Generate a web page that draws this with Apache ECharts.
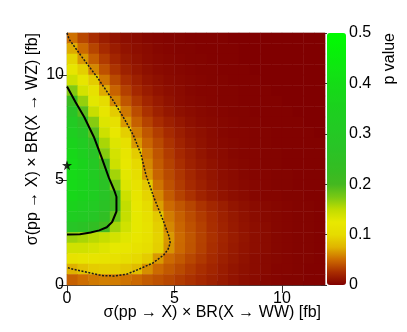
<!DOCTYPE html>
<html>
<head>
<meta charset="utf-8">
<script src="https://cdn.jsdelivr.net/npm/echarts@6/dist/echarts.min.js"></script>
<style>
  html, body { margin: 0; padding: 0; background: #fff; }
  #chart { width: 407px; height: 332px; }
</style>
</head>
<body>
<div id="chart"></div>
<script>
// bin centres (0.5 wide bins over 0..12)
const X_CENTERS = [0.25, 0.75, 1.25, 1.75, 2.25, 2.75, 3.25, 3.75, 4.25, 4.75, 5.25, 5.75, 6.25, 6.75, 7.25, 7.75, 8.25, 8.75, 9.25, 9.75, 10.25, 10.75, 11.25, 11.75]
const Y_CENTERS = [0.25, 0.75, 1.25, 1.75, 2.25, 2.75, 3.25, 3.75, 4.25, 4.75, 5.25, 5.75, 6.25, 6.75, 7.25, 7.75, 8.25, 8.75, 9.25, 9.75, 10.25, 10.75, 11.25, 11.75]

// p values, one row per y bin, top row (y = 11.75) first
const P_ROWS = [
  [0.052, 0.036, 0.025, 0.017, 0.011, 0.008, 0.006, 0.004, 0.003, 0.002, 0.002, 0.001, 0.001, 0.001, 0.001, 0, 0, 0, 0, 0, 0, 0, 0, 0],
  [0.072, 0.050, 0.035, 0.024, 0.016, 0.011, 0.008, 0.006, 0.004, 0.003, 0.002, 0.002, 0.001, 0.001, 0.001, 0.001, 0, 0, 0, 0, 0, 0, 0, 0],
  [0.095, 0.066, 0.045, 0.031, 0.021, 0.014, 0.010, 0.007, 0.005, 0.004, 0.003, 0.002, 0.002, 0.001, 0.001, 0.001, 0, 0, 0, 0, 0, 0, 0, 0],
  [0.118, 0.092, 0.060, 0.040, 0.028, 0.019, 0.013, 0.009, 0.006, 0.005, 0.004, 0.003, 0.002, 0.002, 0.001, 0.001, 0.001, 0, 0, 0, 0, 0, 0, 0],
  [0.142, 0.118, 0.090, 0.054, 0.037, 0.026, 0.018, 0.012, 0.009, 0.006, 0.005, 0.004, 0.003, 0.002, 0.002, 0.001, 0.001, 0.001, 0, 0, 0, 0, 0, 0],
  [0.172, 0.138, 0.110, 0.072, 0.047, 0.033, 0.023, 0.016, 0.011, 0.008, 0.006, 0.004, 0.003, 0.003, 0.002, 0.002, 0.001, 0.001, 0.001, 0, 0, 0, 0, 0],
  [0.220, 0.165, 0.128, 0.100, 0.060, 0.042, 0.030, 0.021, 0.015, 0.010, 0.007, 0.005, 0.004, 0.003, 0.002, 0.002, 0.001, 0.001, 0.001, 0.001, 0, 0, 0, 0],
  [0.270, 0.190, 0.145, 0.118, 0.090, 0.054, 0.038, 0.027, 0.019, 0.013, 0.009, 0.007, 0.005, 0.004, 0.003, 0.002, 0.002, 0.001, 0.001, 0.001, 0.001, 0, 0, 0],
  [0.310, 0.245, 0.170, 0.132, 0.108, 0.066, 0.046, 0.034, 0.025, 0.018, 0.013, 0.009, 0.006, 0.005, 0.004, 0.003, 0.002, 0.002, 0.001, 0.001, 0.001, 0.001, 0, 0],
  [0.340, 0.290, 0.190, 0.142, 0.122, 0.092, 0.056, 0.042, 0.032, 0.024, 0.017, 0.012, 0.009, 0.006, 0.004, 0.003, 0.003, 0.002, 0.002, 0.001, 0.001, 0.001, 0.001, 0],
  [0.360, 0.320, 0.235, 0.158, 0.132, 0.108, 0.066, 0.048, 0.037, 0.028, 0.020, 0.014, 0.010, 0.007, 0.005, 0.004, 0.003, 0.002, 0.002, 0.001, 0.001, 0.001, 0.001, 0.001],
  [0.380, 0.345, 0.270, 0.170, 0.138, 0.118, 0.090, 0.055, 0.041, 0.031, 0.023, 0.017, 0.012, 0.008, 0.006, 0.004, 0.003, 0.003, 0.002, 0.002, 0.001, 0.001, 0.001, 0.001],
  [0.390, 0.360, 0.300, 0.200, 0.142, 0.122, 0.098, 0.060, 0.044, 0.034, 0.026, 0.019, 0.014, 0.010, 0.007, 0.005, 0.004, 0.003, 0.002, 0.002, 0.001, 0.001, 0.001, 0.001],
  [0.390, 0.370, 0.320, 0.245, 0.160, 0.128, 0.105, 0.066, 0.047, 0.037, 0.029, 0.022, 0.016, 0.012, 0.008, 0.006, 0.004, 0.003, 0.003, 0.002, 0.002, 0.001, 0.001, 0.001],
  [0.390, 0.370, 0.330, 0.265, 0.175, 0.132, 0.112, 0.088, 0.053, 0.040, 0.031, 0.024, 0.018, 0.013, 0.009, 0.007, 0.005, 0.004, 0.003, 0.002, 0.002, 0.001, 0.001, 0.001],
  [0.380, 0.360, 0.330, 0.275, 0.210, 0.142, 0.118, 0.095, 0.060, 0.044, 0.034, 0.027, 0.020, 0.015, 0.011, 0.008, 0.006, 0.004, 0.003, 0.003, 0.002, 0.002, 0.001, 0.001],
  [0.360, 0.340, 0.310, 0.265, 0.210, 0.148, 0.122, 0.100, 0.068, 0.050, 0.042, 0.035, 0.028, 0.022, 0.017, 0.012, 0.009, 0.006, 0.005, 0.004, 0.003, 0.002, 0.002, 0.001],
  [0.330, 0.310, 0.285, 0.245, 0.185, 0.146, 0.126, 0.108, 0.088, 0.056, 0.046, 0.038, 0.031, 0.025, 0.019, 0.014, 0.010, 0.007, 0.005, 0.004, 0.003, 0.002, 0.002, 0.001],
  [0.280, 0.265, 0.240, 0.205, 0.160, 0.140, 0.126, 0.112, 0.092, 0.060, 0.048, 0.040, 0.033, 0.026, 0.020, 0.015, 0.011, 0.008, 0.006, 0.004, 0.003, 0.002, 0.002, 0.001],
  [0.162, 0.158, 0.152, 0.146, 0.138, 0.130, 0.121, 0.110, 0.094, 0.066, 0.050, 0.042, 0.034, 0.027, 0.021, 0.016, 0.012, 0.008, 0.006, 0.004, 0.003, 0.002, 0.002, 0.001],
  [0.140, 0.140, 0.136, 0.131, 0.126, 0.120, 0.112, 0.104, 0.092, 0.064, 0.049, 0.041, 0.033, 0.026, 0.020, 0.015, 0.011, 0.008, 0.006, 0.004, 0.003, 0.002, 0.002, 0.001],
  [0.112, 0.116, 0.117, 0.115, 0.111, 0.105, 0.098, 0.090, 0.066, 0.050, 0.043, 0.036, 0.030, 0.024, 0.018, 0.014, 0.010, 0.007, 0.005, 0.004, 0.003, 0.002, 0.002, 0.001],
  [0.074, 0.084, 0.090, 0.092, 0.091, 0.087, 0.080, 0.062, 0.050, 0.043, 0.037, 0.031, 0.026, 0.021, 0.016, 0.012, 0.009, 0.007, 0.005, 0.003, 0.003, 0.002, 0.001, 0.001],
  [0.046, 0.051, 0.055, 0.057, 0.056, 0.053, 0.049, 0.044, 0.040, 0.036, 0.031, 0.027, 0.023, 0.019, 0.015, 0.011, 0.008, 0.006, 0.004, 0.003, 0.002, 0.002, 0.001, 0.001],
]

// contour lines, [x, y]
const DOTTED_CONTOUR = [
  [0, 12.0], [0.1, 11.7], [0.7, 10.85], [1.4, 9.9], [2.2, 8.7], [2.7, 7.85], [3.1, 7.1],
  [3.45, 6.2], [3.67, 5.25], [4.05, 4.15], [4.5, 3.0], [4.75, 2.3], [4.8, 2.0], [4.7, 1.7],
  [4.5, 1.43], [4.0, 1.05], [3.45, 0.8], [2.8, 0.52], [2.2, 0.43], [1.6, 0.45], [1.1, 0.57],
  [0.6, 0.68], [0.1, 0.8], [0, 0.85],
]
const SOLID_CONTOUR = [
  [0, 9.45], [0.05, 9.4], [0.4, 8.7], [0.8, 8.0], [1.25, 7.05], [1.6, 6.1], [1.95, 5.1],
  [2.2, 4.5], [2.3, 4.2], [2.3, 3.5], [2.1, 3.0], [1.85, 2.75], [1.5, 2.6], [1.1, 2.5],
  [0.6, 2.42], [0.1, 2.4], [0, 2.4],
]
const BEST_FIT = [[0, 5.7]]

const AXIS_MAJOR = [0, 5, 10]
const AXIS_MINOR = [1, 2, 3, 4, 6, 7, 8, 9, 11]
const PVAL_TICKS = [0, 0.1, 0.2, 0.3, 0.4, 0.5]

// palette, evenly spread over 0..0.5
const PALETTE = [
  '#800000', '#a82c00', '#cc6a00', '#e0b400', '#e6dc00', '#e8e800', '#c0dc00',
  '#78c814', '#44b820', '#36bc22', '#2ec024', '#28c426', '#24c824', '#20cc22',
  '#1cd01e', '#18d61a', '#14dc16', '#10e412', '#0aec0c', '#05f406', '#00fc00',
]

const FONT = "'Liberation Sans', Arial, Helvetica, sans-serif"
const STAR = 'path://M50,0 L61.8,35.1 L98.1,35.1 L68.8,56.8 L79.4,91.9 L50,70.4 L20.6,91.9 L31.2,56.8 L1.9,35.1 L38.2,35.1 Z'

const heatData = []
P_ROWS.forEach((row, r) => {
  const yi = Y_CENTERS.length - 1 - r
  row.forEach((v, xi) => heatData.push([xi, yi, v]))
})

const valueAxis = (margin) => ({
  type: 'value', gridIndex: 0, min: 0, max: 12, interval: 1,
  axisLine: { show: true, lineStyle: { color: '#444', width: 1 } },
  axisTick: { show: true, inside: true, length: 4, customValues: AXIS_MINOR, lineStyle: { color: '#333' } },
  axisLabel: { show: true, customValues: AXIS_MAJOR, margin: margin, color: '#000', fontSize: 16, fontFamily: FONT },
  splitLine: { show: false },
})

const majorAxis = () => ({
  type: 'value', gridIndex: 0, min: 0, max: 12, interval: 1,
  axisLine: { show: false },
  axisTick: { show: true, inside: true, length: 8, customValues: AXIS_MAJOR, lineStyle: { color: '#333' } },
  axisLabel: { show: false },
  splitLine: { show: false },
})

const chart = echarts.init(document.getElementById('chart'), null, { renderer: 'canvas' })
chart.setOption({
  animation: false,
  backgroundColor: '#fff',
  grid: [
    { left: 67, top: 33, width: 258, height: 252, show: true, borderColor: '#c8c8c8', borderWidth: 1, backgroundColor: 'transparent' },
    { left: 327, top: 33, width: 19, height: 252 },
  ],
  xAxis: [
    valueAxis(6),
    majorAxis(),
    { type: 'category', gridIndex: 0, data: X_CENTERS, show: false, boundaryGap: true },
    { type: 'value', gridIndex: 1, min: 0, max: 1, show: false },
  ],
  yAxis: [
    valueAxis(3),
    majorAxis(),
    { type: 'category', gridIndex: 0, data: Y_CENTERS, show: false, boundaryGap: true },
    {
      type: 'value', gridIndex: 1, min: 0, max: 0.5, interval: 0.1, position: 'right',
      axisLine: { show: false },
      axisTick: { show: true, inside: true, length: 6, customValues: PVAL_TICKS, lineStyle: { color: '#333' } },
      axisLabel: { show: true, customValues: PVAL_TICKS, margin: 3, color: '#000', fontSize: 16, fontFamily: FONT,
        formatter: (v) => (v === 0 ? '0' : v.toFixed(1)) },
      splitLine: { show: false },
    },
  ],
  visualMap: {
    type: 'continuous',
    min: 0, max: 0.5,
    dimension: 2,
    seriesIndex: 0,
    orient: 'vertical',
    left: 327, top: 33,
    itemWidth: 19, itemHeight: 252,
    padding: 0,
    calculable: false,
    hoverLink: false,
    text: null,
    inRange: { color: PALETTE },
  },
  series: [
    {
      type: 'heatmap',
      xAxisIndex: 2, yAxisIndex: 2,
      data: heatData,
      emphasis: { disabled: true },
      silent: true,
    },
    {
      type: 'line',
      xAxisIndex: 0, yAxisIndex: 0,
      data: DOTTED_CONTOUR,
      symbol: 'none',
      clip: false,
      silent: true,
      lineStyle: { color: '#1a1a1a', width: 1.5, type: [2, 1.5] },
    },
    {
      type: 'line',
      xAxisIndex: 0, yAxisIndex: 0,
      data: SOLID_CONTOUR,
      symbol: 'none',
      clip: false,
      silent: true,
      lineStyle: { color: '#000', width: 2 },
    },
    {
      type: 'scatter',
      xAxisIndex: 0, yAxisIndex: 0,
      data: BEST_FIT,
      symbol: STAR,
      symbolSize: 10,
      clip: false,
      silent: true,
      itemStyle: { color: '#000' },
    },
    {
      type: 'scatter',
      xAxisIndex: 3, yAxisIndex: 3,
      data: [],
    },
  ],
  graphic: [
    {
      type: 'text', x: 321, y: 313,
      style: { text: 'σ(pp → X) × BR(X → WW) [fb]', fill: '#000', font: '16px ' + FONT, textAlign: 'right', textVerticalAlign: 'middle' },
    },
    {
      type: 'text', x: 33, y: 33, rotation: Math.PI / 2,
      style: { text: 'σ(pp → X) × BR(X → WZ) [fb]', fill: '#000', font: '16px ' + FONT, textAlign: 'right', textVerticalAlign: 'middle' },
    },
    {
      type: 'text', x: 390, y: 33, rotation: Math.PI / 2,
      style: { text: 'p value', fill: '#000', font: '16px ' + FONT, textAlign: 'right', textVerticalAlign: 'middle' },
    },
  ],
})
</script>
</body>
</html>
